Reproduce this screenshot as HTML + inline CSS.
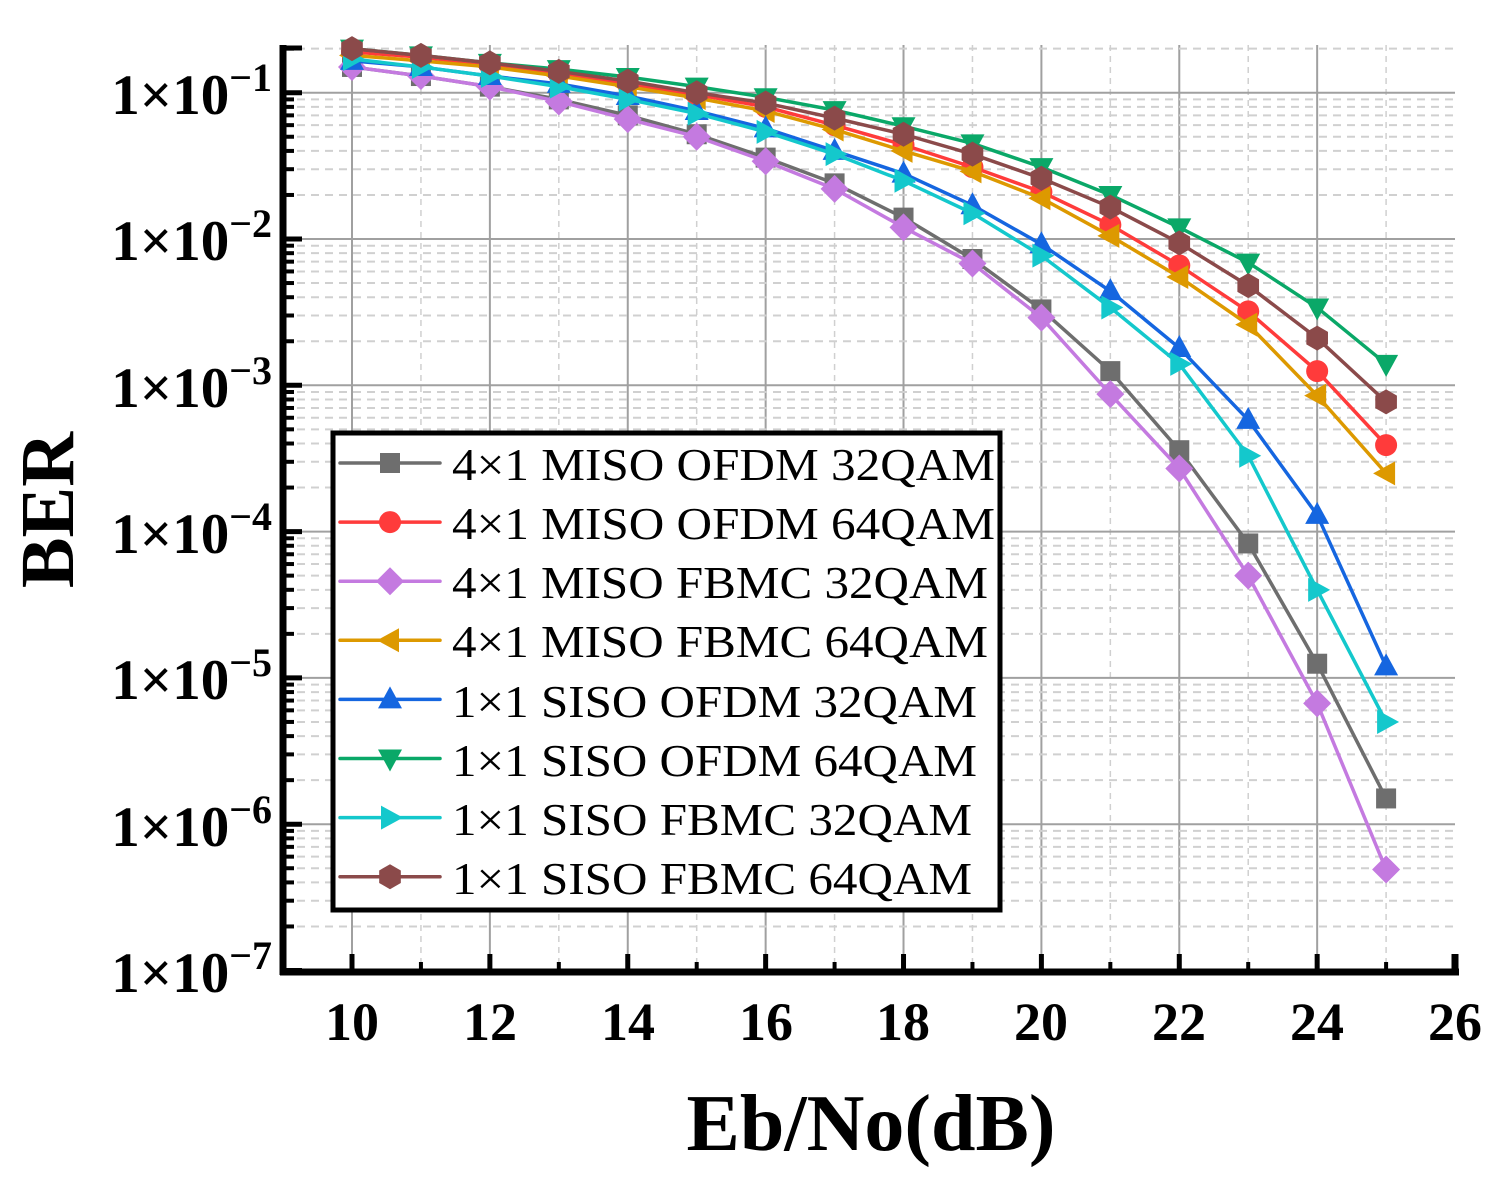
<!DOCTYPE html>
<html><head><meta charset="utf-8"><style>
html,body{margin:0;padding:0;background:#fff;}
svg{display:block;}
</style></head><body>
<svg id="s" width="1505" height="1185" viewBox="0 0 1505 1185" xmlns="http://www.w3.org/2000/svg" font-family="'Liberation Serif',serif">
<g id="grid"></g>
<g id="series"></g>
<g id="axes"></g>
<g font-weight="bold" font-size="54" text-anchor="middle">
<text x="352" y="1040">10</text><text x="490" y="1040">12</text><text x="628" y="1040">14</text><text x="766" y="1040">16</text><text x="903" y="1040">18</text><text x="1041" y="1040">20</text><text x="1179" y="1040">22</text><text x="1317" y="1040">24</text><text x="1455" y="1040">26</text>
</g>
<g font-weight="bold" font-size="57" text-anchor="end">
<text x="272" y="114">1×10<tspan dy="-23" font-size="40">−1</tspan></text>
<text x="272" y="260">1×10<tspan dy="-23" font-size="40">−2</tspan></text>
<text x="272" y="407">1×10<tspan dy="-23" font-size="40">−3</tspan></text>
<text x="272" y="553">1×10<tspan dy="-23" font-size="40">−4</tspan></text>
<text x="272" y="699">1×10<tspan dy="-23" font-size="40">−5</tspan></text>
<text x="272" y="846">1×10<tspan dy="-23" font-size="40">−6</tspan></text>
<text x="272" y="992">1×10<tspan dy="-23" font-size="40">−7</tspan></text>
</g>
<text x="871" y="1150" font-weight="bold" font-size="80" text-anchor="middle">Eb/No(dB)</text>
<text transform="translate(73,510) rotate(-90)" font-weight="bold" font-size="76" text-anchor="middle">BER</text>
<rect x="333" y="433" width="667" height="477" fill="#fff" stroke="#000" stroke-width="5"/>
<g id="leg"></g>
<g font-size="46">
<text x="452" y="480" textLength="543" lengthAdjust="spacingAndGlyphs">4×1 MISO OFDM 32QAM</text>
<text x="452" y="539" textLength="543" lengthAdjust="spacingAndGlyphs">4×1 MISO OFDM 64QAM</text>
<text x="452" y="598" textLength="536" lengthAdjust="spacingAndGlyphs">4×1 MISO FBMC 32QAM</text>
<text x="452" y="657" textLength="536" lengthAdjust="spacingAndGlyphs">4×1 MISO FBMC 64QAM</text>
<text x="452" y="717" textLength="525" lengthAdjust="spacingAndGlyphs">1×1 SISO OFDM 32QAM</text>
<text x="452" y="776" textLength="525" lengthAdjust="spacingAndGlyphs">1×1 SISO OFDM 64QAM</text>
<text x="452" y="835" textLength="520" lengthAdjust="spacingAndGlyphs">1×1 SISO FBMC 32QAM</text>
<text x="452" y="894" textLength="520" lengthAdjust="spacingAndGlyphs">1×1 SISO FBMC 64QAM</text>
</g>
</svg>
<script>
var NS="http://www.w3.org/2000/svg";
function el(p,t,a){var e=document.createElementNS(NS,t);for(var k in a)e.setAttribute(k,a[k]);p.appendChild(e);return e;}
var X=function(v){return 352+(v-10)*68.94;};
var Y=function(v){return 92.7+(-1-Math.log10(v))*146.3;};
var g=document.getElementById('grid'),ax=document.getElementById('axes');
for(var x=10;x<=25;x++){var px=X(x);
 if(x%2==0) el(g,'line',{x1:px,y1:45,x2:px,y2:970,stroke:'#a0a0a0','stroke-width':2});
 else el(g,'line',{x1:px,y1:45,x2:px,y2:970,stroke:'#d0d0d0','stroke-width':1.5,'stroke-dasharray':'6,5'});
}
for(var d=-7;d<=-1;d++){
 var py=Y(Math.pow(10,d));
 el(g,'line',{x1:283,y1:py,x2:1455,y2:py,stroke:'#a0a0a0','stroke-width':2});
 el(ax,'line',{x1:283,y1:py,x2:302,y2:py,stroke:'#000','stroke-width':5});
 for(var m=2;m<=9;m++){var v=m*Math.pow(10,d);if(v>0.21)break;var q=Y(v);
  el(g,'line',{x1:283,y1:q,x2:1455,y2:q,stroke:'#d0d0d0','stroke-width':2,'stroke-dasharray':'8,6'});
  el(ax,'line',{x1:283,y1:q,x2:294,y2:q,stroke:'#000','stroke-width':4});
 }
}
for(var x=9;x<=26;x++){var px=X(x);
 if(x%2==0) el(ax,'line',{x1:px,y1:972,x2:px,y2:954,stroke:'#000','stroke-width':5});
 else el(ax,'line',{x1:px,y1:972,x2:px,y2:962,stroke:'#000','stroke-width':4});
}
el(ax,'line',{x1:283,y1:45,x2:283,y2:975,stroke:'#000','stroke-width':7});
el(ax,'line',{x1:280,y1:972,x2:1459,y2:972,stroke:'#000','stroke-width':7});
el(ax,'line',{x1:283,y1:48,x2:302,y2:48,stroke:'#000','stroke-width':5});
el(ax,'line',{x1:1455,y1:972,x2:1455,y2:954,stroke:'#000','stroke-width':7});
var S=[
['#6e6e6e','sq',[0.15,0.13,0.11,0.09,0.07,0.052,0.036,0.024,0.014,0.0073,0.0033,0.00125,0.00036,8.3e-5,1.25e-5,1.5e-6]],
['#ff3b3b','ci',[0.19,0.175,0.155,0.135,0.115,0.097,0.08,0.06,0.044,0.031,0.021,0.0125,0.0066,0.0032,0.00125,0.00039]],
['#c47ae0','di',[0.15,0.13,0.11,0.087,0.066,0.05,0.034,0.022,0.012,0.0068,0.0029,0.00087,0.00027,5e-5,6.7e-6,4.9e-7]],
['#dd9900','tl',[0.18,0.165,0.15,0.13,0.11,0.092,0.075,0.056,0.04,0.029,0.019,0.0105,0.0055,0.0026,0.00085,0.00025]],
['#1566e0','tu',[0.165,0.15,0.13,0.115,0.095,0.075,0.057,0.04,0.028,0.017,0.0092,0.0044,0.0018,0.00058,0.00013,1.2e-5]],
['#0aa868','td',[0.2,0.18,0.16,0.145,0.128,0.11,0.093,0.076,0.059,0.045,0.031,0.02,0.012,0.0069,0.0034,0.0014]],
['#14c8cc','tr',[0.17,0.15,0.13,0.11,0.09,0.072,0.054,0.038,0.025,0.015,0.0077,0.0034,0.0014,0.00033,4e-5,5e-6]],
['#8b4a4a','hx',[0.2,0.18,0.16,0.14,0.12,0.1,0.085,0.067,0.052,0.038,0.026,0.0165,0.0094,0.0048,0.0021,0.00077]]
];
function mk(p,t,x,y,c){
 if(t=='sq')el(p,'rect',{x:x-10,y:y-10,width:20,height:20,fill:c});
 else if(t=='ci')el(p,'circle',{cx:x,cy:y,r:11,fill:c});
 else{var pts;
  if(t=='di')pts=[[0,-14],[14,0],[0,14],[-14,0]];
  else if(t=='tu')pts=[[0,-13],[12,9],[-12,9]];
  else if(t=='td')pts=[[0,13],[12,-9],[-12,-9]];
  else if(t=='tl')pts=[[-13,0],[9,-12],[9,12]];
  else if(t=='tr')pts=[[13,0],[-9,-12],[-9,12]];
  else {pts=[];for(var i=0;i<6;i++){var a=Math.PI/6+i*Math.PI/3;pts.push([12.5*Math.cos(a),12.5*Math.sin(a)]);}}
  el(p,'polygon',{points:pts.map(function(q){return (x+q[0])+','+(y+q[1]);}).join(' '),fill:c});
 }
}
var sg=document.getElementById('series'),lg=document.getElementById('leg');
S.forEach(function(s,i){
 var pts=s[2].map(function(v,j){return X(10+j)+','+Y(v);}).join(' ');
 el(sg,'polyline',{points:pts,fill:'none',stroke:s[0],'stroke-width':3.5,'stroke-linejoin':'round'});
 s[2].forEach(function(v,j){mk(sg,s[1],X(10+j),Y(v),s[0]);});
 var ly=463+i*59.1;
 el(lg,'line',{x1:340,y1:ly,x2:440,y2:ly,stroke:s[0],'stroke-width':3.5,'stroke-linecap':'round'});
 mk(lg,s[1],390,ly,s[0]);
});
</script>
</body></html>
